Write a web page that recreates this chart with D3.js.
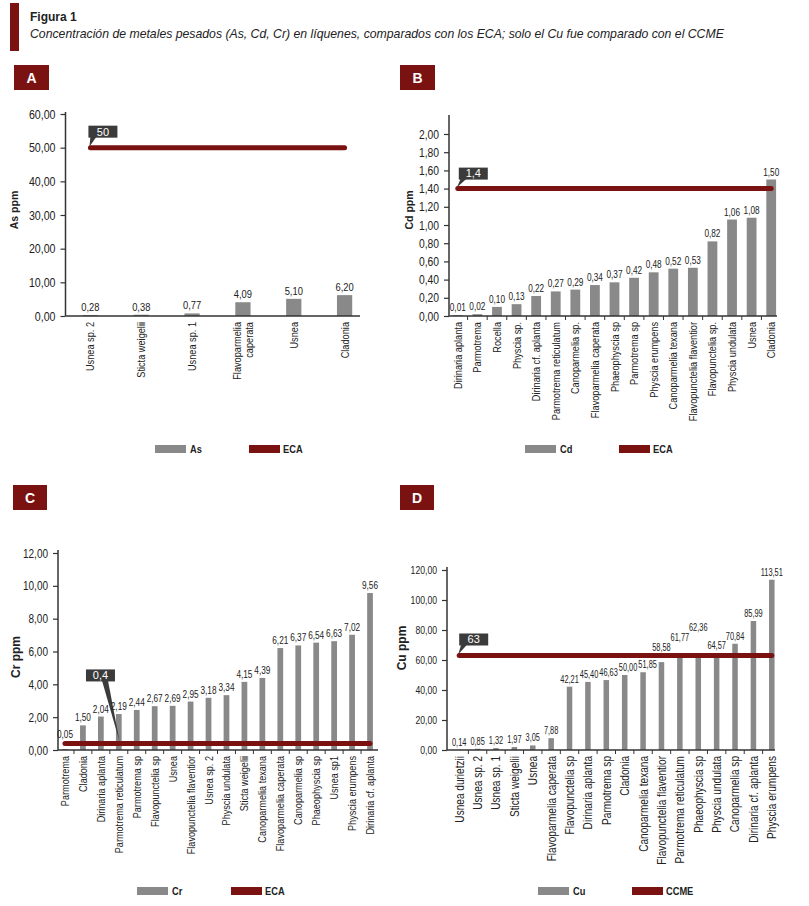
<html lang="es">
<head>
<meta charset="utf-8">
<title>Figura 1</title>
<style>
  body { margin: 0; background-color: white; }
  svg text { font-family: 'Liberation Sans', Arial, sans-serif; fill: #222; }
  .title { font-size: 12px; font-weight: bold; }
  .subtitle { font-size: 12.25px; font-style: italic; }
  .letter { font-size: 14px; font-weight: bold; fill: white !important; }
  .ytitle, .legend text { font-weight: bold; }
  .callout text { fill: white !important; font-size: 11px; }
</style>
</head>
<body>
<script src="https://cdnjs.cloudflare.com/ajax/libs/d3/7.8.5/d3.min.js"></script>
<script>
// ---- data ----
var asCategories = ["Usnea sp. 2", "Sticta weigelii", "Usnea sp. 1", "Flavoparmelia caperata", "Usnea", "Cladonia"];
var asValues = [0.28, 0.38, 0.77, 4.09, 5.10, 6.20];
var asLimit = 50;
var asTicks = [0, 10, 20, 30, 40, 50, 60];

var cdCategories = ["Dirinaria aplanta", "Parmotrema", "Rocella", "Physcia sp.", "Dirinaria cf. aplanta",
  "Parmotrema reticulatum", "Canoparmelia sp.", "Flavoparmelia caperata", "Phaeophyscia sp", "Parmotrema sp",
  "Physcia erumpens", "Canoparmelia texana", "Flavopunctelia flaventior", "Flavopunctelia sp.",
  "Physcia undulata", "Usnea", "Cladonia"];
var cdValues = [0.01, 0.02, 0.10, 0.13, 0.22, 0.27, 0.29, 0.34, 0.37, 0.42, 0.48, 0.52, 0.53, 0.82, 1.06, 1.08, 1.50];
var cdLimit = 1.4;
var cdTicks = [0, 0.2, 0.4, 0.6, 0.8, 1.0, 1.2, 1.4, 1.6, 1.8, 2.0];

var crCategories = ["Parmotrema", "Cladonia", "Dirinaria aplanta", "Parmotrema reticulatum", "Parmotrema sp",
  "Flavopunctelia sp", "Usnea", "Flavopunctelia flaventior", "Usnea sp. 2", "Physcia undulata",
  "Sticta weigelii", "Canoparmelia texana", "Flavoparmelia caperata", "Canoparmelia sp", "Phaeophyscia sp",
  "Usnea sp1", "Physcia erumpens", "Dirinaria cf. aplanta"];
var crValues = [0.05, 1.50, 2.04, 2.19, 2.44, 2.67, 2.69, 2.95, 3.18, 3.34, 4.15, 4.39, 6.21, 6.37, 6.54, 6.63, 7.02, 9.56];
var crLimit = 0.4;
var crTicks = [0, 2, 4, 6, 8, 10, 12];

var cuCategories = ["Usnea durietzii", "Usnea sp. 2", "Usnea sp. 1", "Sticta weigelii", "Usnea",
  "Flavoparmelia caperata", "Flavopunctelia sp", "Dirinaria aplanta", "Parmotrema sp", "Cladonia",
  "Canoparmelia texana", "Flavopunctelia flaventior", "Parmotrema reticulatum", "Phaeophyscia sp",
  "Physcia undulata", "Canoparmelia sp", "Dirinaria cf. aplanta", "Physcia erumpens"];
var cuValues = [0.14, 0.85, 1.32, 1.97, 3.05, 7.88, 42.21, 45.40, 46.63, 50.00, 51.85, 58.58, 61.77, 62.36, 64.57, 70.84, 85.99, 113.51];
var cuLimit = 63;
var cuTicks = [0, 20, 40, 60, 80, 100, 120];

var BAR = "#898989", RED = "#7b1212", BOX = "#3b3b3b", AXIS = "#333";
var NARROW = 0.8, NARROW_BOLD = 0.8;

var locale = d3.formatLocale({decimal: ",", thousands: ".", grouping: [3], currency: ["", ""]});
var fmt = locale.format(".2f");
var fmtLimit = locale.format("~g");

// squeeze text horizontally to look like the narrow face of the original
function condense(f) {
  return function() {
    var w = this.getComputedTextLength();
    d3.select(this).attr("textLength", w * f).attr("lengthAdjust", "spacingAndGlyphs");
  };
}

var svg = d3.select("body").append("svg")
  .attr("width", 809)
  .attr("height", 906);

// header
svg.append("rect").attr("x", 10).attr("y", 3).attr("width", 9).attr("height", 48).attr("fill", RED);
svg.append("text").attr("class", "title").attr("x", 30).attr("y", 21).text("Figura 1");
svg.append("text").attr("class", "subtitle").attr("x", 30).attr("y", 38)
  .text("Concentración de metales pesados (As, Cd, Cr) en líquenes, comparados con los ECA; solo el Cu fue comparado con el CCME");

// panel layouts
var panels = [
  { letter: "A", box: [14, 65, 35, 25], cats: asCategories, vals: asValues, limit: asLimit, ticks: asTicks,
    series: "As", limitName: "ECA", ytitle: "As ppm", titleX: 14, titleY: 210, titleFs: 10.5,
    tickFs: 13.3, valFs: 11.7, valNarrow: 0.8, catFs: 11.5,
    axisX: 65.5, band: [65, 370], axisEnd: 360, pad: 0.7, yDomain: [0, 60], yRange: [316, 114], axisTop: 112,
    wrap: 15, boundaryTicks: false, legend: [155, 445], callout: [-2, -22] },
  { letter: "B", box: [400, 65, 35, 25], cats: cdCategories, vals: cdValues, limit: cdLimit, ticks: cdTicks,
    series: "Cd", limitName: "ECA", ytitle: "Cd ppm", titleX: 409, titleY: 210, titleFs: 10.5,
    tickFs: 12.9, valFs: 10.3, valNarrow: 0.8, catFs: 11.5,
    axisX: 449, band: [448, 781], axisEnd: 777, pad: 0.5, yDomain: [0, 2], yRange: [316, 134], axisTop: 115,
    wrap: 0, boundaryTicks: true, legend: [525, 445], callout: [1, -21] },
  { letter: "C", box: [13, 485, 34, 25], cats: crCategories, vals: crValues, limit: crLimit, ticks: crTicks,
    series: "Cr", limitName: "ECA", ytitle: "Cr ppm", titleX: 16, titleY: 657, titleFs: 12,
    tickFs: 12.5, valFs: 10.3, valNarrow: 0.8, catFs: 11.4,
    axisX: 58, band: [56, 379], axisEnd: 378, pad: 0.68, yDomain: [0, 12], yRange: [750, 553], axisTop: 550,
    wrap: 0, boundaryTicks: true, legend: [137, 887], callout: [21, -74], tipIndex: 3 },
  { letter: "D", box: [400, 485, 34, 25], cats: cuCategories, vals: cuValues, limit: cuLimit, ticks: cuTicks,
    series: "Cu", limitName: "CCME", ytitle: "Cu ppm", titleX: 402, titleY: 648, titleFs: 12,
    tickFs: 10.8, valFs: 10, valNarrow: 0.74, catFs: 12.6,
    axisX: 447, band: [450, 781], axisEnd: 775, pad: 0.7, yDomain: [0, 120], yRange: [750, 570], axisTop: 567,
    wrap: 0, boundaryTicks: true, legend: [538, 887], callout: [0, -22] }
];

panels.forEach(drawPanel);

function drawPanel(p) {
  var g = svg.append("g");
  var data = p.cats.map(function(c, i) { return {cat: c, val: p.vals[i]}; });

  // letter box
  g.append("rect").attr("x", p.box[0]).attr("y", p.box[1]).attr("width", p.box[2]).attr("height", p.box[3])
    .attr("fill", RED);
  g.append("text").attr("class", "letter")
    .attr("x", p.box[0] + p.box[2] / 2).attr("y", p.box[1] + p.box[3] / 2).attr("dy", "0.36em")
    .attr("text-anchor", "middle").text(p.letter);

  var x = d3.scaleBand().domain(p.cats).range(p.band).paddingInner(p.pad).paddingOuter(p.pad / 2);
  var y = d3.scaleLinear().domain(p.yDomain).range(p.yRange);
  var y0 = y(0);
  var cx = function(c) { return x(c) + x.bandwidth() / 2; };

  // y axis
  var yAxis = d3.axisLeft(y).tickValues(p.ticks).tickSize(5).tickSizeOuter(0).tickPadding(5)
    .tickFormat(function(d) { return fmt(d); });
  var ya = g.append("g").attr("transform", "translate(" + p.axisX + ",0)").call(yAxis);
  ya.select(".domain").remove();
  ya.selectAll("line").attr("stroke", AXIS).attr("stroke-width", 1.2);
  ya.selectAll("text").attr("fill", "#222").attr("font-family", null)
    .style("font-size", p.tickFs + "px").each(condense(NARROW));
  g.append("line").attr("x1", p.axisX).attr("x2", p.axisX).attr("y1", p.axisTop).attr("y2", y0)
    .attr("stroke", AXIS).attr("stroke-width", 1.5);

  g.append("text").attr("class", "ytitle")
    .attr("transform", "translate(" + p.titleX + "," + p.titleY + ") rotate(-90)")
    .attr("text-anchor", "middle").attr("dy", "0.35em")
    .style("font-size", p.titleFs + "px").text(p.ytitle);

  // bars
  g.append("g").selectAll("rect").data(data).enter().append("rect")
    .attr("x", function(d) { return x(d.cat); })
    .attr("width", x.bandwidth())
    .attr("y", function(d) { return y(d.val); })
    .attr("height", function(d) { return y0 - y(d.val); })
    .attr("fill", BAR);

  // x axis line and boundary ticks
  g.append("line").attr("x1", p.axisX).attr("x2", p.axisEnd).attr("y1", y0).attr("y2", y0)
    .attr("stroke", AXIS).attr("stroke-width", 1.5);
  if (p.boundaryTicks) {
    var bounds = p.cats.map(function(c) { return cx(c) - x.step() / 2; }).slice(1);
    g.append("g").selectAll("line").data(bounds).enter().append("line")
      .attr("x1", function(d) { return d; }).attr("x2", function(d) { return d; })
      .attr("y1", y0).attr("y2", y0 + 4)
      .attr("stroke", AXIS).attr("stroke-width", 1);
  }

  // category labels (rotated), long ones wrapped in panel A
  var cg = g.append("g");
  data.forEach(function(d) {
    var lines = [d.cat];
    if (p.wrap && d.cat.length > p.wrap) {
      var k = d.cat.lastIndexOf(" ");
      lines = [d.cat.slice(0, k), d.cat.slice(k + 1)];
    }
    lines.forEach(function(s, i) {
      var off = (i - (lines.length - 1) / 2) * 12.5;
      cg.append("text")
        .attr("text-anchor", "end").attr("dy", "0.35em")
        .attr("transform", "translate(" + (cx(d.cat) + off) + "," + (y0 + 6) + ") rotate(-90)")
        .style("font-size", p.catFs + "px")
        .text(s).each(condense(NARROW));
    });
  });

  // reference line
  var ly = y(p.limit);
  var xa = cx(p.cats[0]), xb = cx(p.cats[p.cats.length - 1]);
  g.append("line").attr("x1", xa).attr("x2", xb).attr("y1", ly).attr("y2", ly)
    .attr("stroke", RED).attr("stroke-width", 5).attr("stroke-linecap", "round");

  // callout with the limit value
  var bx = xa + p.callout[0], by = ly + p.callout[1];
  var tipX = p.tipIndex != null ? cx(p.cats[p.tipIndex]) + 1 : xa - 1;
  var a = p.tipIndex != null ? 16 : 2;
  var co = g.append("g").attr("class", "callout");
  co.append("path")
    .attr("d", "M" + (bx + a) + "," + (by + 11) + "L" + (bx + a + 6) + "," + (by + 11) + "L" + tipX + "," + (ly - 1) + "Z")
    .attr("fill", BOX);
  co.append("rect").attr("x", bx).attr("y", by).attr("width", 29).attr("height", 12).attr("fill", BOX);
  co.append("text").attr("x", bx + 14.5).attr("y", by + 6).attr("dy", "0.35em")
    .attr("text-anchor", "middle").text(fmtLimit(p.limit).replace(".", ","));

  // value labels above bars, lifted clear of the reference line
  var vg = g.append("g");
  var stagger = 0;
  var prev = null;
  data.forEach(function(d) {
    var c = cx(d.cat);
    var base = y(d.val) - 4;
    var t = vg.append("text").attr("text-anchor", "middle")
      .style("font-size", p.valFs + "px").text(fmt(d.val));
    var w = t.node().getComputedTextLength() * p.valNarrow;
    t.each(condense(p.valNarrow));
    if (base > ly - 5 && base - 8 < ly + 3) {
      base = ly - 5 - (stagger % 3) * 10;
      stagger++;
    } else {
      stagger = 0;
    }
    if (prev) {
      var over = (prev.w + w) / 2 + 1 - (c - prev.c);
      if (over > 0 && Math.abs(base - prev.base) < 8) c += over;
    }
    t.attr("x", c).attr("y", base);
    prev = {c: c, w: w, base: base};
  });

  // legend
  var lg = g.append("g").attr("class", "legend");
  var lx = p.legend[0], lyy = p.legend[1];
  lg.append("rect").attr("x", lx).attr("y", lyy).attr("width", 31).attr("height", 8).attr("fill", BAR);
  lg.append("text").attr("x", lx + 35).attr("y", lyy + 4).attr("dy", "0.35em")
    .style("font-size", "11.6px").text(p.series).each(condense(NARROW_BOLD));
  lg.append("rect").attr("x", lx + 94).attr("y", lyy).attr("width", 31).attr("height", 8).attr("fill", RED);
  lg.append("text").attr("x", lx + 128).attr("y", lyy + 4).attr("dy", "0.35em")
    .style("font-size", "11.6px").text(p.limitName).each(condense(NARROW_BOLD));
}
</script>
</body>
</html>
